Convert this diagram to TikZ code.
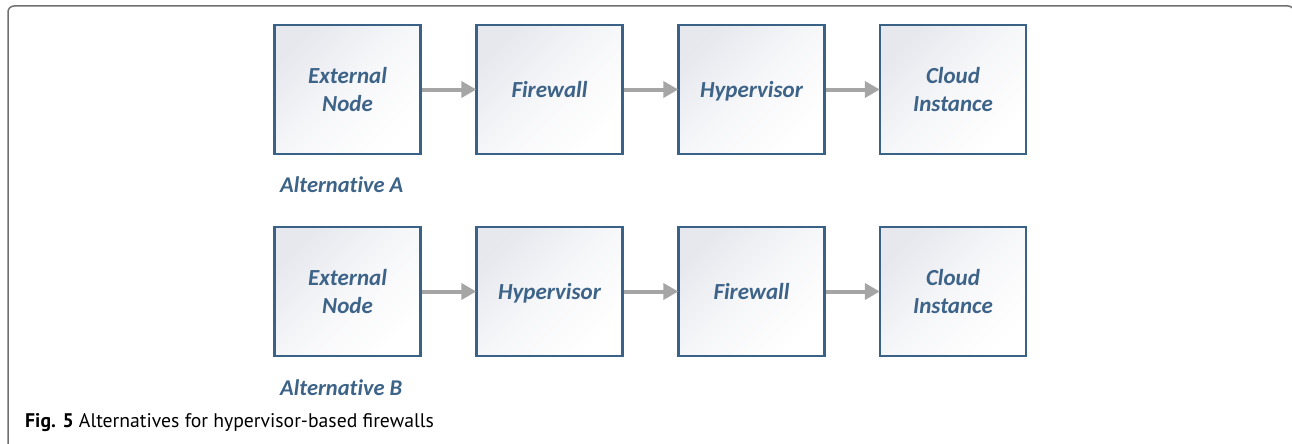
\documentclass[tikz,border=0pt]{standalone}
\usepackage{fontspec}
\setmainfont{Carlito}[Ligatures={NoCommon,NoRare,NoDiscretionary}]
\newfontfamily\capfont{PT Sans}
\usetikzlibrary{arrows.meta}
\definecolor{boxblue}{HTML}{3A6186}
\definecolor{txtblue}{HTML}{3D6388}
\definecolor{arrgray}{HTML}{A5A5A5}
\definecolor{framegray}{HTML}{707070}
\definecolor{shadetop}{HTML}{E6E8EE}
\tikzset{
  stage/.style={draw=boxblue, line width=2.4pt, minimum width=146pt, minimum height=129pt,
    inner sep=0pt, top color=shadetop, bottom color=white, middle color=white!65!shadetop,
    shading angle=45,
    text=txtblue, font=\fontsize{23}{27.5}\selectfont\bfseries\itshape, align=center},
  oneline/.style={text depth=0pt},
  flow/.style={draw=arrgray, line width=4pt, -{Triangle[length=15pt,width=16pt]}, shorten >=-1pt},
  altlabel/.style={anchor=base west, text=txtblue, inner sep=0pt,
    font=\fontsize{22.5}{25}\selectfont\bfseries\itshape},
}
\begin{document}
\begin{tikzpicture}[x=1pt,y=-1pt]
  \useasboundingbox (0,0) rectangle (1292,444);
  % outer frame, open at the bottom and cut at the right
  \begin{scope}
    \clip (0,0) rectangle (1292,444);
    \draw[framegray, line width=1.5pt, rounded corners=6pt]
      (8,460) -- (8,6) -- (1294,6) -- (1294,460);
  \end{scope}
  % Alternative A
  \node[stage] (a1) at (347.5,89.5) {External\\Node};
  \node[stage, oneline] (a2) at (549.5,89.5) {Firewall};
  \node[stage, oneline] (a3) at (751.5,89.5) {Hypervisor};
  \node[stage] (a4) at (953,89.5) {Cloud\\Instance};
  \draw[flow] (a1) -- (a2);
  \draw[flow] (a2) -- (a3);
  \draw[flow] (a3) -- (a4);
  \node[altlabel] (la) at (280,192) {Alternative A};
  % Alternative B
  \node[stage] (b1) at (347.5,291.5) {External\\Node};
  \node[stage, oneline] (b2) at (549.5,291.5) {Hypervisor};
  \node[stage, oneline] (b3) at (751.5,291.5) {Firewall};
  \node[stage] (b4) at (953,291.5) {Cloud\\Instance};
  \draw[flow] (b1) -- (b2);
  \draw[flow] (b2) -- (b3);
  \draw[flow] (b3) -- (b4);
  \node[altlabel] (lb) at (280,395) {Alternative B};
  % caption
  \node[anchor=base west, inner sep=0pt, font=\capfont\fontsize{19.7}{22}\selectfont] (cap) at (25,427)
    {\textbf{Fig. 5} Alternatives for hypervisor-based firewalls};
\end{tikzpicture}
\end{document}
